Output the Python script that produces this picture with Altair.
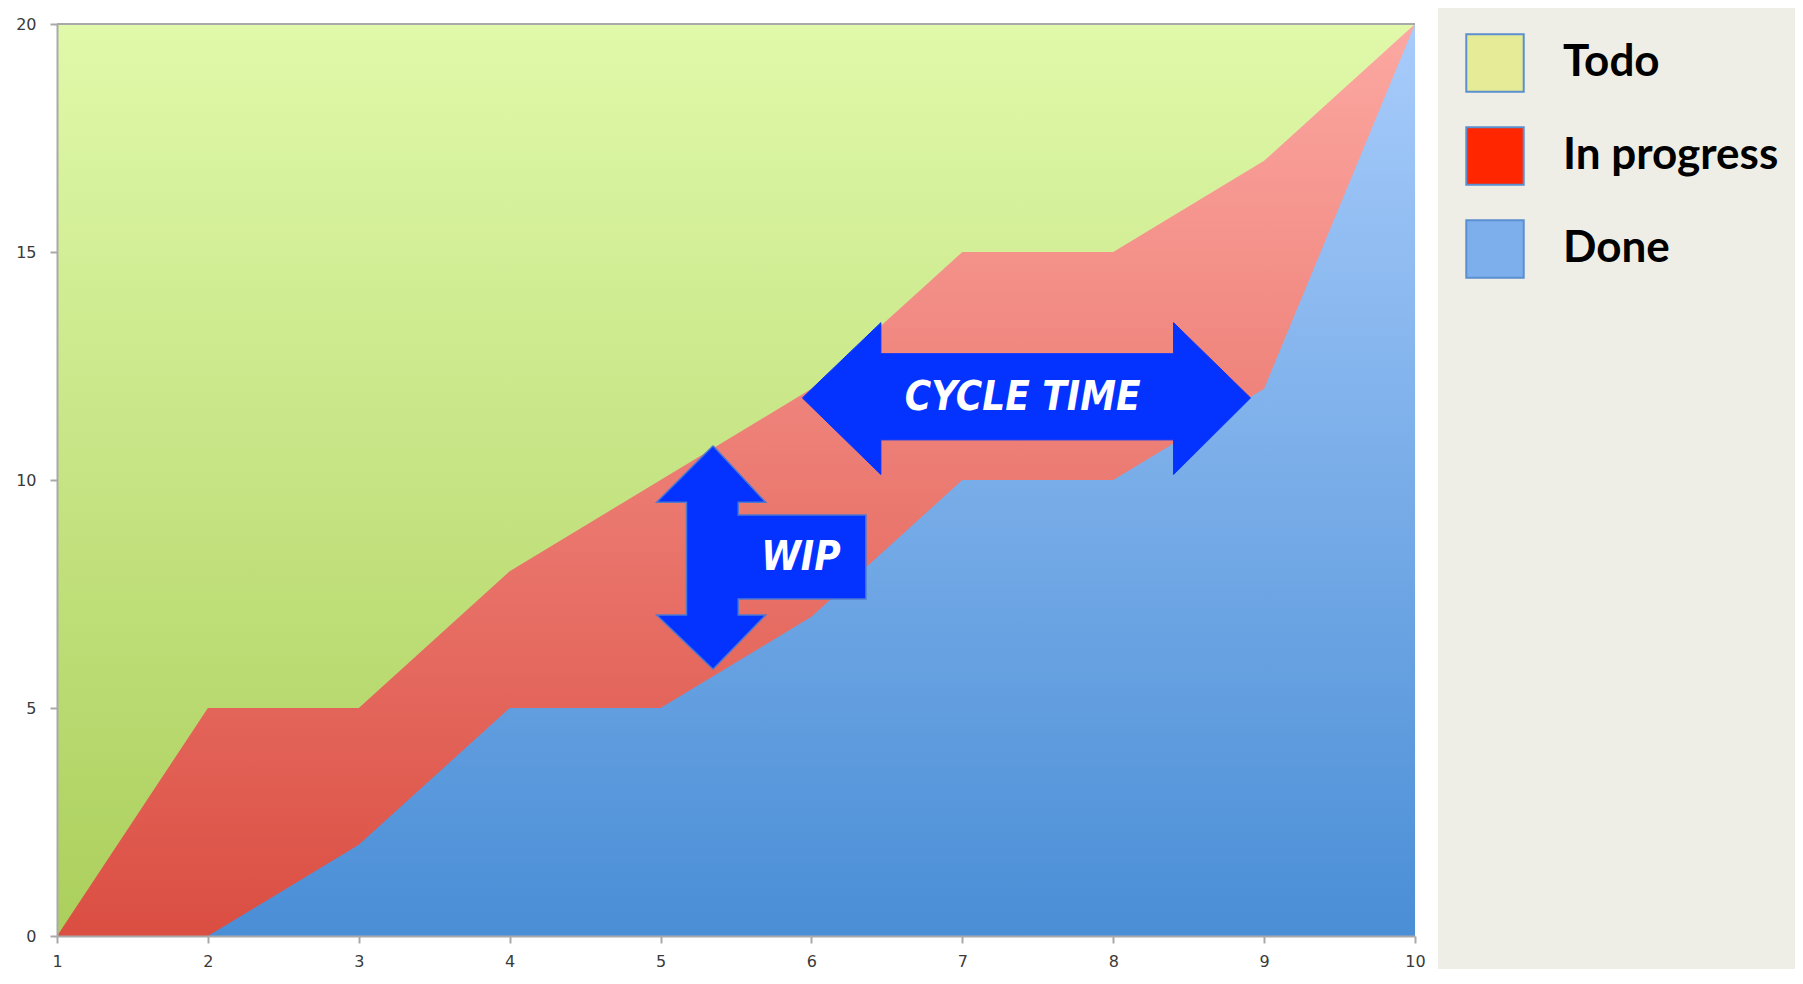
import altair as alt
import pandas as pd

# ---- data ----
days = [1, 2, 3, 4, 5, 6, 7, 8, 9, 10]
done = [0, 0, 2, 5, 5, 7, 10, 10, 12, 20]
in_progress = [0, 5, 3, 3, 5, 5, 5, 5, 5, 0]
todo = [20, 15, 15, 12, 10, 8, 5, 5, 3, 0]

series_names = ["Todo", "In progress", "Done"]
legend_colors = ["#E6EB97", "#FF2600", "#7DAFEC"]

x_ticks = [1, 2, 3, 4, 5, 6, 7, 8, 9, 10]
y_ticks = [0, 5, 10, 15, 20]

# annotation arrows (data units)
cycle_x = [5.94, 6.46, 6.46, 8.40, 8.40, 8.91, 8.40, 8.40, 6.46, 6.46, 5.94]
cycle_y = [11.8, 13.45, 12.77, 12.77, 13.45, 11.8, 10.12, 10.88, 10.88, 10.12, 11.8]
wip_x = [5.348, 5.697, 5.515, 5.515, 6.361, 6.361, 5.515, 5.515, 5.697, 5.348,
         4.974, 5.172, 5.172, 4.974, 5.348]
wip_y = [10.75, 9.51, 9.51, 9.23, 9.23, 7.39, 7.39, 7.04, 7.04, 5.85,
         7.04, 7.04, 9.51, 9.51, 10.75]
label_text = ["CYCLE TIME", "WIP"]
label_x = [7.40, 5.93]
label_y = [11.8, 8.3]

# ---- derived tables ----
prog_top = [d + p for d, p in zip(done, in_progress)]
todo_top = [p + t for p, t in zip(prog_top, todo)]

df_todo = pd.DataFrame({"day": days, "value": todo_top})
df_prog = pd.DataFrame({"day": days, "value": prog_top})
df_done = pd.DataFrame({"day": days, "value": done})
df_legend = pd.DataFrame({
    "day": days * 3,
    "value": todo_top + prog_top + done,
    "series": [s for s in series_names for _ in days],
})
df_cycle = pd.DataFrame({"day": cycle_x, "value": cycle_y, "i": list(range(len(cycle_x)))})
df_wip = pd.DataFrame({"day": wip_x, "value": wip_y, "i": list(range(len(wip_x)))})
df_text = pd.DataFrame({"day": label_x, "value": label_y, "label": label_text})
df_one = pd.DataFrame({"k": [0]})

W, H = 1358, 912
BEIGE = "#EFEEE6"
AXIS_GREY = "#A9A9A9"

x_axis = alt.Axis(values=x_ticks, title=None, grid=False, domainColor=AXIS_GREY,
                  domainWidth=2, tickColor=AXIS_GREY, tickWidth=2, tickSize=7,
                  labelFont="DejaVu Sans", labelFontSize=16, labelColor="#3A3A3A",
                  labelPadding=10, format="d", labelFlush=False, zindex=1)
y_axis = alt.Axis(values=y_ticks, title=None, grid=False, domainColor=AXIS_GREY,
                  domainWidth=2, tickColor=AXIS_GREY, tickWidth=2, tickSize=7,
                  labelFont="DejaVu Sans", labelFontSize=16, labelColor="#3A3A3A",
                  labelPadding=14, format="d", zindex=1)

X = alt.X("day:Q", scale=alt.Scale(domain=[1, 10], nice=False, zero=False), axis=x_axis)
Y = alt.Y("value:Q", scale=alt.Scale(domain=[0, 20], nice=False), axis=y_axis)


def grad(top, bottom):
    return alt.Gradient(
        gradient="linear",
        stops=[alt.GradientStop(color=top, offset=0), alt.GradientStop(color=bottom, offset=1)],
        x1=0, x2=0, y1=0, y2=1,
    )


panel = alt.Chart(df_one).mark_rect(color="white").encode(
    x=alt.value(-49), x2=alt.value(1381), y=alt.value(-16), y2=alt.value(945))
side = alt.Chart(df_one).mark_rect(color=BEIGE).encode(
    x=alt.value(1381), x2=alt.value(1738), y=alt.value(-16), y2=alt.value(945))

area_todo = alt.Chart(df_todo).mark_area(color=grad("#E0F9AA", "#ABCF5C"), opacity=1).encode(x=X, y=Y)
area_prog = alt.Chart(df_prog).mark_area(color=grad("#FCA8A2", "#DB4E42"), opacity=1).encode(x=X, y=Y)
area_done = alt.Chart(df_done).mark_area(color=grad("#A8CCFB", "#4A8ED6"), opacity=1).encode(x=X, y=Y)
top_line = alt.Chart(df_todo).mark_line(color=AXIS_GREY, strokeWidth=2).encode(x=X, y=Y)

legend = alt.Legend(title=None, orient="none", legendX=1408, legendY=9, direction="vertical",
                    symbolType="square", symbolSize=3300, symbolOpacity=1,
                    symbolStrokeColor="#5C8FD0", symbolStrokeWidth=2,
                    labelFont="Lato", labelFontSize=44, labelFontWeight="bold",
                    labelColor="#000000", labelOffset=38, rowPadding=27, padding=0,
                    labelLimit=400)
legend_layer = alt.Chart(df_legend).mark_square(opacity=0).encode(
    x=X, y=Y,
    color=alt.Color("series:N", scale=alt.Scale(domain=series_names, range=legend_colors),
                    legend=legend),
)

ARROW = "#0433FF"
cycle_arrow = alt.Chart(df_cycle).mark_line(fill=ARROW, stroke=ARROW, strokeWidth=1).encode(
    x=X, y=Y, order="i:Q")
wip_arrow = alt.Chart(df_wip).mark_line(fill=ARROW, stroke="#4F78D0", strokeWidth=1.5).encode(
    x=X, y=Y, order="i:Q")
texts = alt.Chart(df_text).mark_text(
    font="Liberation Sans Narrow, DejaVu Sans Condensed, sans-serif", fontSize=40,
    fontWeight="bold", fontStyle="italic", color="white", align="center", baseline="middle",
).encode(x=X, y=Y, text="label:N")

chart = alt.layer(
    panel, side, area_todo, area_prog, area_done, top_line, legend_layer,
    cycle_arrow, wip_arrow, texts,
).properties(
    width=W, height=H, padding=0, background=BEIGE,
).configure_view(strokeWidth=0)

chart.save("out.html", embed_options={"renderer": "svg", "actions": False})
